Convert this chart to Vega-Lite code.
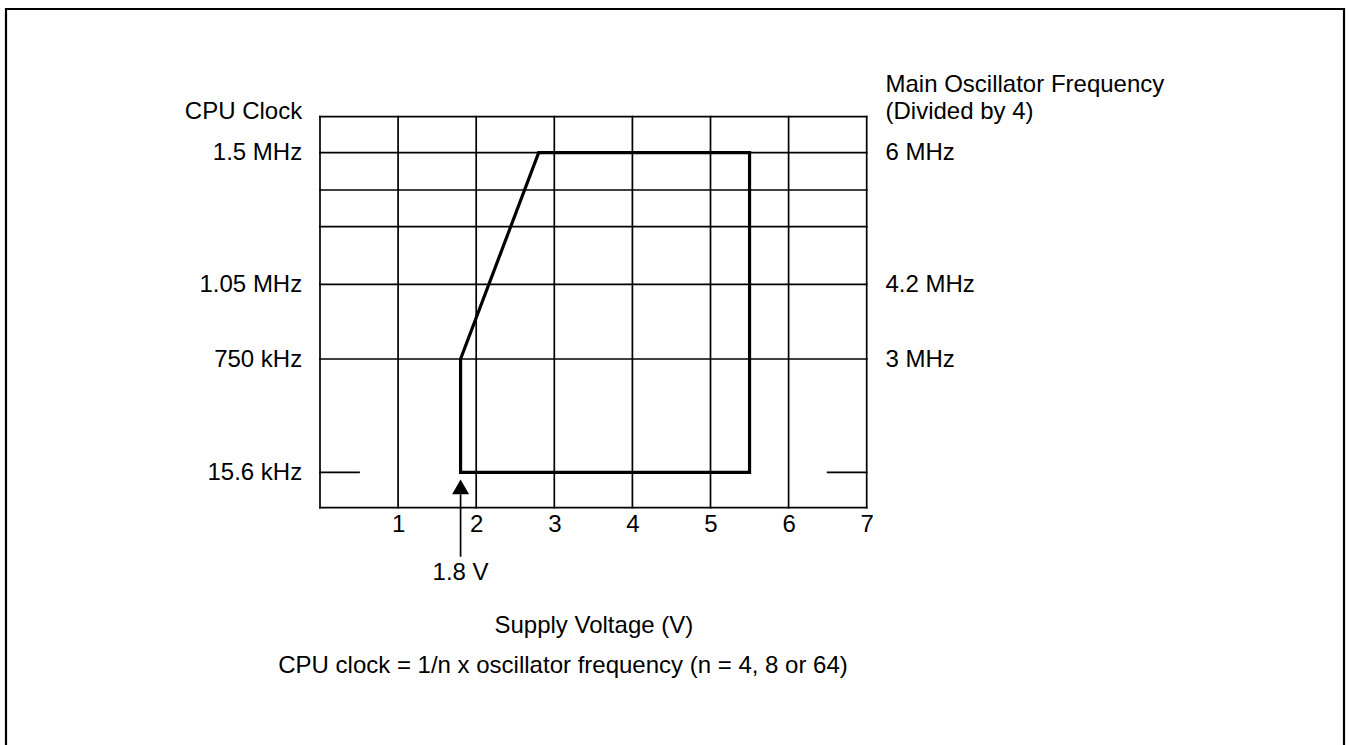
{
  "$schema": "https://vega.github.io/schema/vega-lite/v6.json",
  "width": 1338,
  "height": 740,
  "autosize": {"type": "none"},
  "padding": {"left": 6, "top": 9, "right": 6, "bottom": 0},
  "background": "white",
  "config": {
    "view": {"stroke": "black", "strokeWidth": 2.2},
    "font": "Liberation Sans",
    "axis": {
      "labelFont": "Liberation Sans",
      "labelFontSize": 24,
      "labelColor": "black",
      "titleFont": "Liberation Sans",
      "titleFontSize": 24,
      "titleFontWeight": "normal",
      "titleColor": "black",
      "ticks": false,
      "tickSize": 0,
      "domain": false,
      "grid": false,
      "labelOverlap": false,
      "labelFlush": false,
      "labelBound": false
    }
  },
  "title": {
    "text": "CPU clock = 1/n x oscillator frequency (n = 4, 8 or 64)",
    "orient": "top",
    "anchor": "middle",
    "frame": "group",
    "font": "Liberation Sans",
    "fontSize": 24,
    "fontWeight": "normal",
    "color": "black",
    "baseline": "alphabetic",
    "offset": 0,
    "dx": -112,
    "dy": 688
  },
  "datasets": {
    "vgrid": [
      {"volts": 0}, {"volts": 1}, {"volts": 2}, {"volts": 3},
      {"volts": 4}, {"volts": 5}, {"volts": 6}, {"volts": 7}
    ],
    "hgrid": [
      {"clock_MHz": 0, "from_V": 0, "to_V": 7},
      {"clock_MHz": 0.75, "from_V": 0, "to_V": 7},
      {"clock_MHz": 1.05, "from_V": 0, "to_V": 7},
      {"clock_MHz": 1.2, "from_V": 0, "to_V": 7},
      {"clock_MHz": 1.35, "from_V": 0, "to_V": 7},
      {"clock_MHz": 1.5, "from_V": 0, "to_V": 7},
      {"clock_MHz": 1.65, "from_V": 0, "to_V": 7},
      {"clock_MHz": 0.0156, "from_V": 0, "to_V": 0.5},
      {"clock_MHz": 0.0156, "from_V": 6.5, "to_V": 7}
    ],
    "area": [
      {"point": 1, "volts": 1.8, "clock_MHz": 0.0156},
      {"point": 2, "volts": 1.8, "clock_MHz": 0.75},
      {"point": 3, "volts": 2.8, "clock_MHz": 1.5},
      {"point": 4, "volts": 5.5, "clock_MHz": 1.5},
      {"point": 5, "volts": 5.5, "clock_MHz": 0.0156},
      {"point": 6, "volts": 1.8, "clock_MHz": 0.0156}
    ],
    "marker": [
      {"volts": 1.8, "clock_MHz": 0.0156, "label": "1.8 V"}
    ]
  },
  "resolve": {"axis": {"y": "independent", "x": "independent"}},
  "layer": [
    {
      "data": {"name": "vgrid"},
      "mark": {"type": "rule", "color": "black", "strokeWidth": 1.7, "strokeCap": "square"},
      "encoding": {
        "x": {
          "field": "volts",
          "type": "quantitative",
          "scale": {"domain": [0, 7], "range": [314, 860.7], "nice": false, "zero": false},
          "axis": {
            "orient": "bottom",
            "values": [1, 2, 3, 4, 5, 6, 7],
            "offset": -251.3,
            "labelPadding": 34,
            "labelBaseline": "alphabetic",
            "title": "Supply Voltage (V)",
            "titleX": 587.35,
            "titleY": 135,
            "titleAlign": "center",
            "titleBaseline": "alphabetic"
          }
        },
        "y": {
          "datum": 0,
          "type": "quantitative",
          "scale": {"domain": [0, 0.0156, 0.75, 1.05, 1.2, 1.35, 1.5, 1.65], "range": [498.7, 463.3, 350, 275.3, 217.7, 181, 143.7, 107.7], "nice": false, "zero": false},
          "axis": null
        },
        "y2": {"datum": 1.65}
      }
    },
    {
      "data": {"name": "hgrid"},
      "mark": {"type": "rule", "color": "black", "strokeWidth": 1.7, "strokeCap": "square"},
      "encoding": {
        "x": {"field": "from_V", "type": "quantitative", "axis": null},
        "x2": {"field": "to_V"},
        "y": {
          "field": "clock_MHz",
          "type": "quantitative",
          "axis": {
            "orient": "left",
            "offset": -314,
            "values": [0.0156, 0.75, 1.05, 1.5],
            "labelExpr": "datum.value == 1.5 ? '1.5 MHz' : datum.value == 1.05 ? '1.05 MHz' : datum.value == 0.75 ? '750 kHz' : '15.6 kHz'",
            "labelPadding": 18.3,
            "labelBaseline": "middle",
            "title": "CPU Clock",
            "titleAngle": 0,
            "titleAlign": "right",
            "titleBaseline": "alphabetic",
            "titleX": -18.3,
            "titleY": 109.3
          }
        }
      }
    },
    {
      "data": {"name": "area"},
      "mark": {"type": "line", "color": "black", "strokeWidth": 3.2, "strokeJoin": "miter", "strokeCap": "square"},
      "encoding": {
        "x": {"field": "volts", "type": "quantitative", "axis": null},
        "y": {
          "field": "clock_MHz",
          "type": "quantitative",
          "axis": {
            "orient": "right",
            "offset": -477.3,
            "values": [0.75, 1.05, 1.5],
            "labelExpr": "datum.value == 1.5 ? '6 MHz' : datum.value == 1.05 ? '4.2 MHz' : '3 MHz'",
            "labelPadding": 18.3,
            "labelBaseline": "middle",
            "title": ["Main Oscillator Frequency", "(Divided by 4)"],
            "titleAngle": 0,
            "titleAlign": "left",
            "titleBaseline": "alphabetic",
            "titleX": 18.3,
            "titleY": 82,
            "titleLineHeight": 27.6
          }
        },
        "order": {"field": "point", "type": "quantitative"}
      }
    },
    {
      "data": {"name": "marker"},
      "mark": {"type": "point", "shape": "triangle-up", "filled": true, "color": "black", "opacity": 1, "size": 289, "strokeWidth": 0, "yOffset": 14.6},
      "encoding": {
        "x": {"field": "volts", "type": "quantitative", "axis": null},
        "y": {"field": "clock_MHz", "type": "quantitative", "axis": null}
      }
    },
    {
      "data": {"name": "marker"},
      "mark": {"type": "rule", "color": "black", "strokeWidth": 1.7, "yOffset": 22, "y2Offset": 84.4},
      "encoding": {
        "x": {"field": "volts", "type": "quantitative", "axis": null},
        "y": {"field": "clock_MHz", "type": "quantitative", "axis": null},
        "y2": {"field": "clock_MHz"}
      }
    },
    {
      "data": {"name": "marker"},
      "mark": {"type": "text", "font": "Liberation Sans", "fontSize": 24, "color": "black", "align": "center", "baseline": "alphabetic", "dy": 107.7},
      "encoding": {
        "x": {"field": "volts", "type": "quantitative", "axis": null},
        "y": {"field": "clock_MHz", "type": "quantitative", "axis": null},
        "text": {"field": "label"}
      }
    }
  ]
}
